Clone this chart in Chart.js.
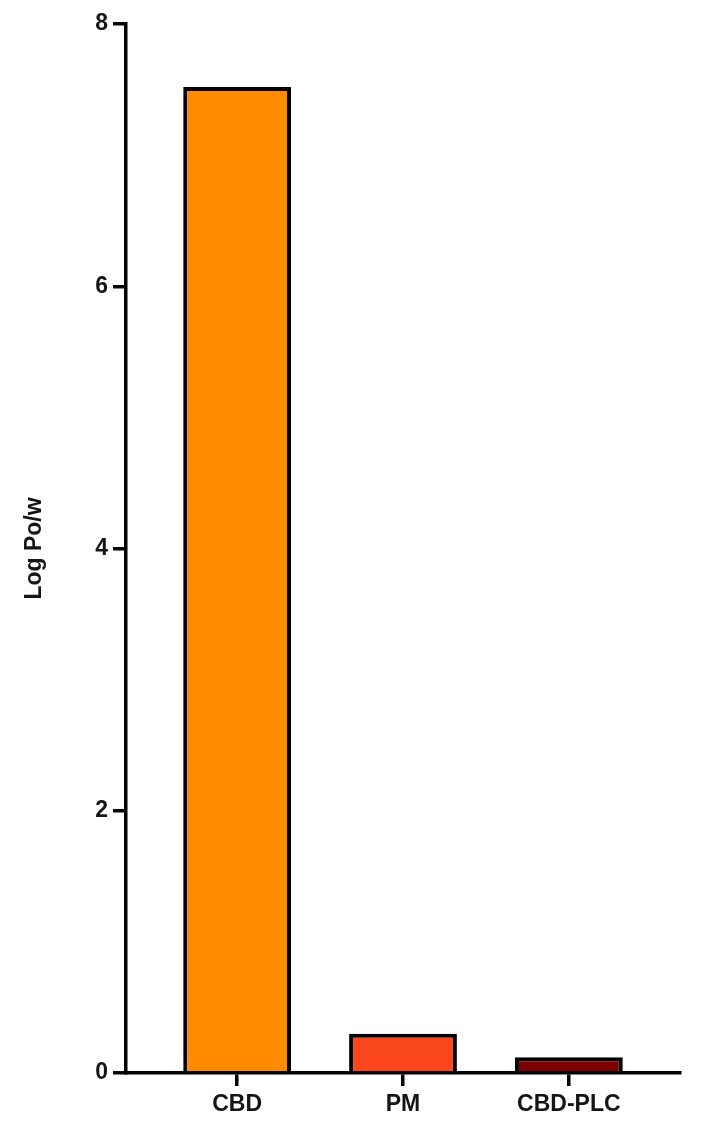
<!DOCTYPE html>
<html>
<head>
<meta charset="utf-8">
<script src="https://cdn.jsdelivr.net/npm/chart.js@4"></script>
<style>
  html, body { margin: 0; padding: 0; background: #fff; }
  #wrap { width: 701px; height: 1140px; }
</style>
</head>
<body>
<div id="wrap"><canvas id="chart" width="701" height="1140"></canvas></div>
<script>
// Data
const categories = ['CBD', 'PM', 'CBD-PLC'];
const logPow = [7.52, 0.30, 0.12];
const barColors = ['#FF8C00', '#F9461C', '#7D0000'];
const yTicks = [0, 2, 4, 6, 8];

const font = { family: 'Liberation Sans, Arial, sans-serif', size: 23, weight: 'bold' };

const ctx = document.getElementById('chart').getContext('2d');
new Chart(ctx, {
    type: 'bar',
    data: {
        datasets: [{
            data: logPow.map((v, i) => ({ x: i, y: v })),
            backgroundColor: barColors,
            borderColor: '#000',
            borderWidth: 4,
            borderSkipped: 'start',
            barPercentage: 0.65,
            categoryPercentage: 1
        }]
    },
    options: {
        responsive: false,
        animation: false,
        devicePixelRatio: 1,
        layout: { padding: { top: 24, right: 21, left: 0, bottom: 0 } },
        plugins: {
            legend: { display: false },
            tooltip: { enabled: false }
        },
        scales: {
            x: {
                type: 'linear',
                offset: false,
                min: -0.67,
                max: 2.67,
                afterBuildTicks: scale => {
                    scale.ticks = categories.map((_, i) => ({ value: i }));
                },
                afterFit: scale => { scale.height = 1140 - 1073; },
                border: { display: true, color: '#000', width: 3.5 },
                grid: {
                    offset: false,
                    drawOnChartArea: false,
                    drawTicks: true,
                    tickLength: 13,
                    color: '#000',
                    lineWidth: 3.5
                },
                ticks: {
                    color: '#151515',
                    font: font,
                    padding: 5,
                    autoSkip: false,
                    maxRotation: 0,
                    callback: value => categories[value]
                }
            },
            y: {
                min: 0,
                max: 8,
                afterBuildTicks: scale => {
                    scale.ticks = yTicks.map(v => ({ value: v }));
                },
                afterFit: scale => { scale.width = 126; },
                border: { display: true, color: '#000', width: 3.5 },
                grid: {
                    drawOnChartArea: false,
                    drawTicks: true,
                    tickLength: 13,
                    color: '#000',
                    lineWidth: 3.5
                },
                ticks: {
                    color: '#151515',
                    font: font,
                    padding: 5
                },
                title: {
                    display: true,
                    text: 'Log Po/w',
                    color: '#151515',
                    font: font,
                    padding: { top: 21, bottom: 0 }
                }
            }
        }
    }
});
</script>
</body>
</html>
